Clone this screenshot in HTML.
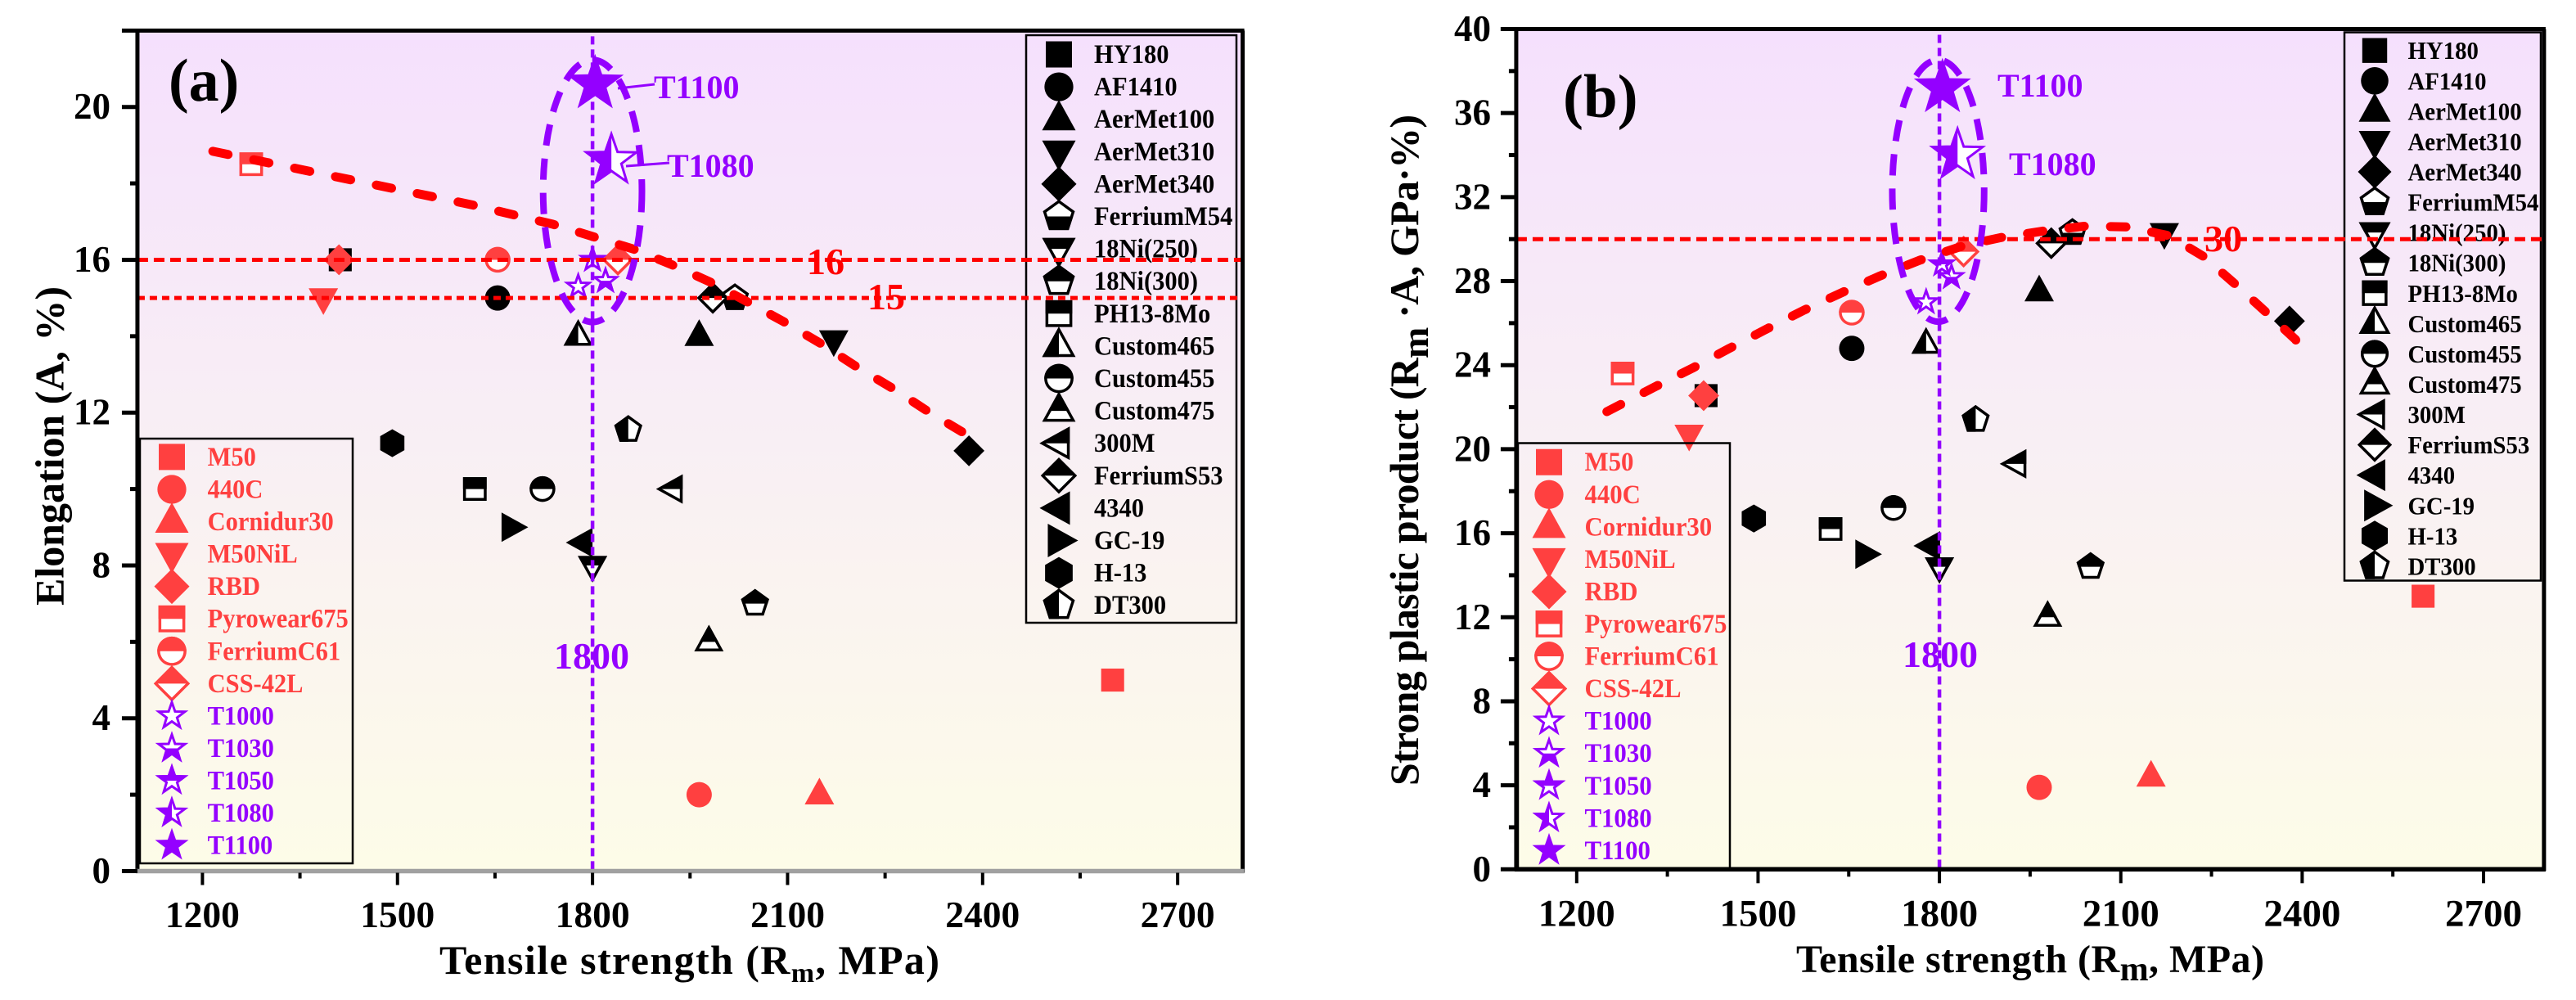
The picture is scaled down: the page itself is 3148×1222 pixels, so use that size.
<!DOCTYPE html>
<html lang="en">
<head>
<meta charset="utf-8">
<title>Tensile strength versus elongation and strong plastic product</title>
<style>
html,body{margin:0;padding:0;background:#fff;width:3148px;height:1222px;overflow:hidden}
svg{display:block}
text{font-family:"Liberation Serif",serif;font-weight:bold}
</style>
</head>
<body>
<svg id="figure" xmlns="http://www.w3.org/2000/svg" width="3148" height="1222" viewBox="0 0 3148 1222">
  <defs>
    <linearGradient id="plot-bg" x1="0" y1="0" x2="0" y2="1">
      <stop offset="0" stop-color="#f5e0fd"/>
      <stop offset="0.45" stop-color="#f8eef5"/>
      <stop offset="1" stop-color="#fdfce8"/>
    </linearGradient>
    <clipPath id="clip-top"><rect x="-100" y="-100" width="200" height="100"/></clipPath>
    <clipPath id="clip-bottom"><rect x="-100" y="0" width="200" height="100"/></clipPath>
    <clipPath id="clip-left"><rect x="-100" y="-100" width="100" height="200"/></clipPath>
  </defs>
  <g id="panel-a"></g>
  <g id="panel-b"></g>

  <text x="206" y="123" font-size="74" fill="#000">(a)</text>
  <text x="1910" y="143" font-size="75" fill="#000">(b)</text>

  <text x="537" y="1190" font-size="50" fill="#000" textLength="611">Tensile strength (R<tspan font-size="34" dy="10">m</tspan><tspan dy="-10">, MPa)</tspan></text>
  <text x="2195" y="1188" font-size="48" fill="#000" textLength="572">Tensile strength (R<tspan font-size="42" dy="10">m</tspan><tspan dy="-10">, MPa)</tspan></text>

  <text transform="translate(77.5,740) rotate(-90)" font-size="50" fill="#000" textLength="390">Elongation (A, %)</text>
  <text transform="translate(1733,960) rotate(-90)" font-size="50" fill="#000" textLength="820">Strong plastic product (R<tspan font-size="46" dy="12">m</tspan><tspan dy="-12"> ·A, GPa·%)</tspan></text>

  <text x="986" y="335" font-size="46" fill="#ff0000">16</text>
  <text x="1060" y="378" font-size="46" fill="#ff0000">15</text>
  <text x="2694" y="307" font-size="46" fill="#ff0000">30</text>
  <text x="677" y="817" font-size="46" fill="#9400ff">1800</text>
  <text x="2325" y="815" font-size="46" fill="#9400ff">1800</text>

  <line x1="755" y1="108" x2="800" y2="103" stroke="#9400ff" stroke-width="3"/>
  <line x1="765" y1="203" x2="818" y2="199" stroke="#9400ff" stroke-width="3"/>
  <text x="799" y="120" font-size="40" fill="#9400ff">T1100</text>
  <text x="815" y="216" font-size="40" fill="#9400ff">T1080</text>
  <text x="2441" y="118" font-size="40" fill="#9400ff">T1100</text>
  <text x="2455" y="214" font-size="40" fill="#9400ff">T1080</text>
</svg>

<script>
// ---------- chart data ----------
const grades = ["HY180","AF1410","AerMet100","AerMet310","AerMet340","FerriumM54","18Ni(250)","18Ni(300)","PH13-8Mo","Custom465","Custom455","Custom475","300M","FerriumS53","4340","GC-19","H-13","DT300","M50","440C","Cornidur30","M50NiL","RBD","Pyrowear675","FerriumC61","CSS-42L","T1000","T1030","T1050","T1080","T1100"];
const strengthA = [1412,1654,1964,2171,2379,2019,1800,2050,1619,1778,1723,1979,1924,1985,1785,1675,1492,1855,2600,1964,2149,1386,1410,1275,1654,1839,1778,1820,1800,1829,1804];
const elongationA = [16,15,14,13.9,11,15,8,7,10,14,10,6,10,15,8.6,9,11.2,11.55,5,2,2,15,16,18.5,16,16,15.3,15.45,16,18.6,20.6];
const strengthB = [1414,1655,1965,2172,2379,2020,1800,2050,1620,1778,1724,1979,1928,1985,1785,1677,1493,1860,2600,1965,2150,1386,1410,1276,1655,1840,1778,1820,1804,1830,1805];
const productB = [22.55,24.8,27.5,30.3,26.1,30.3,14.4,14.4,16.2,25,17.2,12,19.3,29.8,15.4,15,16.7,21.4,13,3.9,4.4,20.7,22.55,23.6,26.5,29.4,27,28.2,28.8,34,37.2];
const trendStrengthA = [1216,1614,1739,1865,1921,1982,2036,2094,2152,2206,2262,2316,2371,2389];
const trendElongationA = [18.84,17.44,16.93,16.27,15.88,15.41,14.92,14.38,13.8,13.2,12.63,12.03,11.47,11.28];
const trendStrengthB = [1250,1329,1391,1452,1514,1576,1640,1702,1767,1840,1903,1973,2042,2111,2180,2236,2289,2341,2389,2395];
const trendProductB = [21.79,22.96,23.85,24.79,25.72,26.62,27.47,28.25,28.99,29.69,30.08,30.39,30.62,30.58,30.16,29.19,27.86,26.5,25.22,24.95];
const xMajorTicks = [1200,1500,1800,2100,2400,2700];
const xMinorTicks = [1350,1650,1950,2250,2550];
const yMajorTicksA = [0,4,8,12,16,20];
const yMinorTicksA = [2,6,10,14,18];
const yMajorTicksB = [0,4,8,12,16,20,24,28,32,36,40];
const yMinorTicksB = [2,6,10,14,18,22,26,30,34,38];
const thresholdsA = [16,15];
const thresholdsB = [30];

// ---------- marker styling (parallel to grades) ----------
const gradeShapes = ["square","circle","up","down","diamond","pentagon","down","pentagon","square","up","circle","up","left","diamond","left","right","hexagon","pentagon","square","circle","up","down","diamond","square","circle","diamond","star","star","star","star","star"];
const gradeFills = ["full","full","full","full","full","bottom","top","top","top","left","top","top","top","top","full","full","full","left","full","full","full","full","full","top","top","top","none","bottom","top","left","full"];
const BLACK = "#000000", RED = "#ff4040", PURPLE = "#9400ff";
function gradeColor(i){ return i < 18 ? BLACK : (i < 26 ? RED : PURPLE); }
function chartSize(i){ return i >= 29 ? 35 : 18; }

const SVGNS = "http://www.w3.org/2000/svg";
function make(tag, attrs, parent){
  const el = document.createElementNS(SVGNS, tag);
  for (const k in attrs) el.setAttribute(k, attrs[k]);
  parent.appendChild(el);
  return el;
}
function drawLine(parent, name, x1, y1, x2, y2, color, w, dash, cap){
  const el = make("line", {x1:x1, y1:y1, x2:x2, y2:y2, stroke:color, "stroke-width":w}, parent);
  if (dash) el.setAttribute("stroke-dasharray", dash);
  if (cap) el.setAttribute("stroke-linecap", cap);
  
  
  return el;
}
function drawText(parent, name, x, y, str, size, color, anchor, stretch){
  const el = make("text", {"font-size":size, fill:color, "text-anchor":anchor || "start"}, parent);
  if (stretch){
    el.setAttribute("transform", "translate(" + x + "," + y + ") scale(1," + stretch + ")");
  } else {
    el.setAttribute("x", x);
    el.setAttribute("y", y);
  }
  el.textContent = str;
  
  
  return el;
}
function regular(n, r, start){
  const pts = [];
  for (let k = 0; k < n; k++){
    const a = start + k * 2 * Math.PI / n;
    pts.push([r * Math.cos(a), r * Math.sin(a)]);
  }
  return pts;
}
function shapePoints(shape, s){
  const top = -Math.PI / 2;
  switch (shape){
    case "square": return [[-.78*s,-.78*s],[.78*s,-.78*s],[.78*s,.78*s],[-.78*s,.78*s]];
    case "circle": return regular(40, .86*s, 0);
    case "up": return [[0,-1.15*s],[s,.66*s],[-s,.66*s]];
    case "down": return [[-s,-.66*s],[s,-.66*s],[0,1.15*s]];
    case "left": return [[-1.15*s,0],[.66*s,-s],[.66*s,s]];
    case "right": return [[1.15*s,0],[-.66*s,-s],[-.66*s,s]];
    case "diamond": return [[0,-1.05*s],[1.05*s,0],[0,1.05*s],[-1.05*s,0]];
    case "pentagon": return regular(5, .98*s, top);
    case "hexagon": return regular(6, .95*s, top);
    case "star": {
      const pts = [];
      for (let k = 0; k < 10; k++){
        const r = (k % 2 ? .42 : 1.05) * s;
        const a = top + k * Math.PI / 5;
        pts.push([r * Math.cos(a), r * Math.sin(a)]);
      }
      return pts;
    }
  }
}
function drawMarker(parent, name, shape, fill, color, cx, cy, s){
  const g = make("g", {transform:"translate(" + cx + "," + cy + ")"}, parent);
  
  
  // outlined shapes are inset so the stroke does not grow the overall size
  let drawSize = s;
  if (fill !== "full") drawSize = shape === "star" ? s - 4.5 : (shape === "up" || shape === "down" || shape === "left" || shape === "right" ? s - 3 : s - 1.75);
  const pts = shapePoints(shape, drawSize).map(function(p){ return p[0].toFixed(2) + "," + p[1].toFixed(2); }).join(" ");
  if (fill === "full"){
    make("polygon", {points:pts, fill:color}, g);
    return g;
  }
  const sw = shape === "star" ? 3 : 3.5;
  make("polygon", {points:pts, fill:"#ffffff", stroke:color, "stroke-width":sw, "stroke-miterlimit":6}, g);
  if (fill !== "none"){
    make("polygon", {points:pts, fill:color, stroke:color, "stroke-width":sw, "stroke-miterlimit":6, "clip-path":"url(#clip-" + fill + ")"}, g);
  }
  return g;
}

function drawPanel(cfg){
  const root = document.getElementById(cfg.id);
  const X = function(v){ return cfg.x0 + (v - 1200) * cfg.xScale; };
  const Y = function(v){ return cfg.y0 - v * cfg.yScale; };
  const left = X(1100), right = X(2800), top = Y(cfg.yMax), bottom = Y(0);

  const bg = make("rect", {x:left, y:top, width:right-left, height:bottom-top, fill:"url(#plot-bg)"}, root);
  
  

  // scatter marks
  grades.forEach(function(g, i){
    drawMarker(root, "point-" + g.toLowerCase().replace(/[()]/g,""), gradeShapes[i], gradeFills[i], gradeColor(i), X(cfg.xs[i]), Y(cfg.ys[i]), chartSize(i));
  });

  // legends
  const boxB = make("rect", {x:cfg.blackBox[0], y:cfg.blackBox[1], width:cfg.blackBox[2], height:cfg.blackBox[3], fill:"none", stroke:"#000", "stroke-width":2.5}, root);
  
  
  const boxR = make("rect", {x:cfg.redBox[0], y:cfg.redBox[1], width:cfg.redBox[2], height:cfg.redBox[3], fill:"none", stroke:"#000", "stroke-width":2.5}, root);
  
  
  grades.forEach(function(g, i){
    const black = i < 18;
    const row = black ? i : i - 18;
    const ly = black ? cfg.blackY + row * cfg.blackStep : cfg.redY + row * cfg.redStep;
    const sx = black ? cfg.blackSymX : cfg.redSymX;
    const tx = black ? cfg.blackTextX : cfg.redTextX;
    const size = black ? cfg.blackSym : cfg.redSym;
    const fs = black ? cfg.blackFont : cfg.redFont;
    drawMarker(root, "legend-symbol-" + g.toLowerCase().replace(/[()]/g,""), gradeShapes[i], gradeFills[i], gradeColor(i), sx, ly, size);
    drawText(root, "legend-label-" + g.toLowerCase().replace(/[()]/g,""), tx, ly + 10.5, g, fs, gradeColor(i), "start", 1.08);
  });

  // reference lines
  cfg.thresholds.forEach(function(t, i){
    const dash = (i === 0) ? "13 7" : "9 6";
    drawLine(root, "threshold-line-" + t, left, Y(t), right, Y(t), "#ff0000", 5, dash);
  });
  drawLine(root, "strength-line-1800", X(1800), top + 7, X(1800), bottom, PURPLE, 4.5, "10 6");

  // trend
  const pts = cfg.trendX.map(function(v, i){ return X(v).toFixed(1) + "," + Y(cfg.trendY[i]).toFixed(1); }).join(" ");
  const trend = make("polyline", {points:pts, fill:"none", stroke:"#ff0000", "stroke-width":11, "stroke-dasharray":"19 32", "stroke-linecap":"round", "stroke-linejoin":"round"}, root);
  
  

  // highlight ring
  const ring = make("ellipse", {cx:X(cfg.ring[0]), cy:Y(cfg.ring[1]), rx:cfg.ring[2]*cfg.xScale, ry:cfg.ring[3]*cfg.yScale, fill:"none", stroke:PURPLE, "stroke-width":8, "stroke-dasharray":"26 16"}, root);
  
  

  // frame
  drawLine(root, "axis-top", left - 19, top, right + 2, top, "#000", 5);
  drawLine(root, "axis-right", right, top, right, bottom + 2, "#000", 5);
  drawLine(root, "axis-left", left, top, left, bottom + 2, "#000", 5);
  drawLine(root, "axis-bottom", left - 2, bottom, right + 2, bottom, cfg.bottomColor, 5.5);

  // ticks
  xMajorTicks.forEach(function(v){
    drawLine(root, "x-tick-" + v, X(v), bottom + 2, X(v), bottom + 17, "#000", 4);
    drawText(root, "x-tick-label-" + v, X(v), cfg.xLabelY, String(v), cfg.tickFont, "#000", "middle");
  });
  xMinorTicks.forEach(function(v){
    drawLine(root, "x-minor-tick-" + v, X(v), bottom + 2, X(v), bottom + 9, "#000", 4);
  });
  cfg.yMajor.forEach(function(v){
    drawLine(root, "y-tick-" + v, left - 19, Y(v), left, Y(v), "#000", 5);
    drawText(root, "y-tick-label-" + v, cfg.yLabelX, Y(v) + 14.5, String(v), 45, "#000", "end");
  });
  cfg.yMinor.forEach(function(v){
    drawLine(root, "y-minor-tick-" + v, left - 9, Y(v), left, Y(v), "#000", 5);
  });
}

drawPanel({
  id:"panel-a", x0:247.4, xScale:0.7945, y0:1064.5, yScale:46.69, yMax:22,
  xs:strengthA, ys:elongationA, trendX:trendStrengthA, trendY:trendElongationA,
  thresholds:thresholdsA, yMajor:yMajorTicksA, yMinor:yMinorTicksA,
  ring:[1800,17.8,76,3.43], bottomColor:"#a0a0a0",
  blackBox:[1254,43,257,718], redBox:[171,536,260,519],
  blackY:66.5, blackStep:39.6, blackSymX:1294, blackTextX:1337, blackSym:20.5, blackFont:30.5,
  redY:558.4, redStep:39.56, redSymX:210, redTextX:253.6, redSym:20.5, redFont:30.5,
  xLabelY:1133, yLabelX:135, tickFont:45.5
});
drawPanel({
  id:"panel-b", x0:1926.8, xScale:0.7388, y0:1062.3, yScale:25.67, yMax:40,
  xs:strengthB, ys:productB, trendX:trendStrengthB, trendY:trendProductB,
  thresholds:thresholdsB, yMajor:yMajorTicksB, yMinor:yMinorTicksB,
  ring:[1798,32.3,76,6.23], bottomColor:"#000000",
  blackBox:[2865,39.5,240,670], redBox:[1855,541.5,259,520.5],
  blackY:61.7, blackStep:37.07, blackSymX:2902, blackTextX:2942.5, blackSym:19.5, blackFont:28.8,
  redY:564.7, redStep:39.56, redSymX:1893, redTextX:1936.5, redSym:20.5, redFont:30.8,
  xLabelY:1131.5, yLabelX:1822, tickFont:47
});
</script>
</body>
</html>
